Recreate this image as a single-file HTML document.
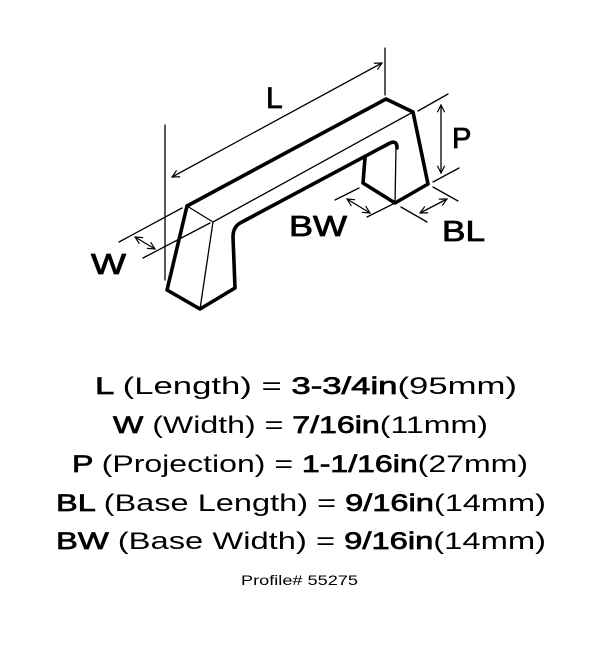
<!DOCTYPE html>
<html><head><style>body{margin:0;background:#fff}svg{display:block}</style></head>
<body>
<svg width="601" height="656" viewBox="0 0 601 656" xmlns="http://www.w3.org/2000/svg">
<defs>
<marker id="a" viewBox="0 0 10 10" refX="9" refY="5" markerWidth="7" markerHeight="7" orient="auto-start-reverse"><path d="M1,1 L9,5 L1,9" fill="none" stroke="#000" stroke-width="1.3"/></marker>
</defs>
<g fill="none" stroke="#000" stroke-linejoin="round" stroke-linecap="round">
<path d="M187,206 L386,99 L413,112 L428,184 L395,203 L363,183 L365,158" stroke-width="3.6"/>
<path d="M187,206 L167,290 L200,309 L235,288 L233,237 Q233,226 242,222 L390,143 Q397,140 397,148" stroke-width="3.6"/>
<path d="M187,206 L213,222 L413,112 M213,222 L200,309 M396,148 L395,203" stroke-width="1.3"/>
<path d="M165,125 L165,280 M385,48 L385,95" stroke-width="1.3"/>
<path d="M172,177 L382,63" stroke-width="1.3" marker-start="url(#a)" marker-end="url(#a)"/>
<path d="M418,111 L448,94 M433,182 L459,168" stroke-width="1.3"/>
<path d="M441,105 L441,173" stroke-width="1.3" marker-start="url(#a)" marker-end="url(#a)"/>
<path d="M433,187 L458,201 M401,207 L427,222" stroke-width="1.3"/>
<path d="M420,213 L447,199" stroke-width="1.3" marker-start="url(#a)" marker-end="url(#a)"/>
<path d="M335,200 L359,188 M367,217 L395,203" stroke-width="1.3"/>
<path d="M347,199 L370,213" stroke-width="1.3" marker-start="url(#a)" marker-end="url(#a)"/>
<path d="M119,242 L182,208 M143,258 L210,223" stroke-width="1.3"/>
<path d="M135,237 L155,249" stroke-width="1.3" marker-start="url(#a)" marker-end="url(#a)"/>
</g>
<g font-family="Liberation Sans, sans-serif" fill="#000">
<g stroke="#000" stroke-width="0.8">
<text x="266" y="108" font-size="30">L</text>
<text x="452" y="148" font-size="29">P</text>
<text x="442" y="241" font-size="29" textLength="43" lengthAdjust="spacingAndGlyphs">BL</text>
<text x="289" y="236" font-size="29" textLength="58" lengthAdjust="spacingAndGlyphs">BW</text>
<text x="91" y="274" font-size="29" textLength="35" lengthAdjust="spacingAndGlyphs">W</text>
</g>
<g font-size="24">
<text x="95" y="394" textLength="422" lengthAdjust="spacingAndGlyphs"><tspan stroke="#000" stroke-width="0.7">L</tspan> (Length) = <tspan stroke="#000" stroke-width="0.7">3-3/4in</tspan>(95mm)</text>
<text x="113" y="433" textLength="375" lengthAdjust="spacingAndGlyphs"><tspan stroke="#000" stroke-width="0.7">W</tspan> (Width) = <tspan stroke="#000" stroke-width="0.7">7/16in</tspan>(11mm)</text>
<text x="72" y="472" textLength="456" lengthAdjust="spacingAndGlyphs"><tspan stroke="#000" stroke-width="0.7">P</tspan> (Projection) = <tspan stroke="#000" stroke-width="0.7">1-1/16in</tspan>(27mm)</text>
<text x="56" y="511" textLength="490" lengthAdjust="spacingAndGlyphs"><tspan stroke="#000" stroke-width="0.7">BL</tspan> (Base Length) = <tspan stroke="#000" stroke-width="0.7">9/16in</tspan>(14mm)</text>
<text x="56" y="549" textLength="490" lengthAdjust="spacingAndGlyphs"><tspan stroke="#000" stroke-width="0.7">BW</tspan> (Base Width) = <tspan stroke="#000" stroke-width="0.7">9/16in</tspan>(14mm)</text>
</g>
<text x="241" y="585" font-size="14" textLength="117" lengthAdjust="spacingAndGlyphs">Profile# 55275</text>
</g>
</svg>
</body></html>
